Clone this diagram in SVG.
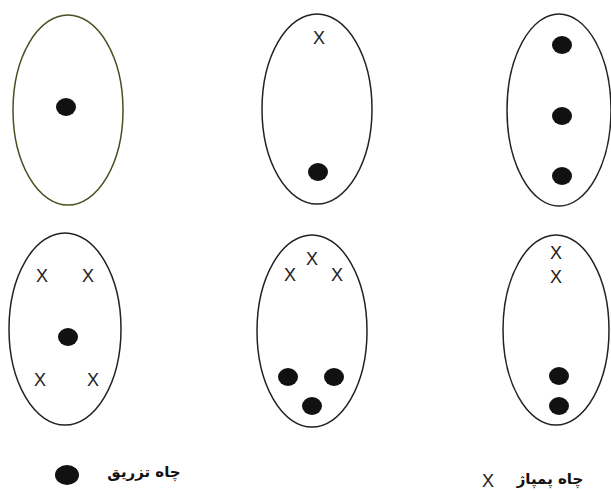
<svg xmlns="http://www.w3.org/2000/svg" width="611" height="491" viewBox="0 0 611 491">
<style>
.field{fill:none;stroke:#222;stroke-width:1.5}
.olive{stroke:#4d4d22}
.inj{fill:#111}
.pump{font-family:"Liberation Sans",Arial,sans-serif;font-size:18px;fill:#222;text-anchor:middle}
.lbl{font-family:"DejaVu Sans",sans-serif;font-weight:bold;font-size:15px;fill:#111;text-anchor:middle}
</style>
<defs>
<ellipse id="dot" cx="0" cy="0" rx="10" ry="9"/>
</defs>
<g id="pattern1">
<ellipse class="field olive" cx="68" cy="110" rx="55" ry="95"/>
<use href="#dot" class="inj" x="66" y="107"/>
</g>
<g id="pattern2">
<ellipse class="field" cx="317" cy="109" rx="55" ry="95"/>
<text class="pump" x="319" y="44">X</text>
<use href="#dot" class="inj" x="318" y="172"/>
</g>
<g id="pattern3">
<ellipse class="field" cx="559" cy="110" rx="52" ry="96"/>
<use href="#dot" class="inj" x="562" y="45"/>
<use href="#dot" class="inj" x="562" y="116"/>
<use href="#dot" class="inj" x="562" y="176"/>
</g>
<g id="pattern4">
<ellipse class="field" cx="65" cy="329" rx="56" ry="96"/>
<text class="pump" x="42" y="282">X</text>
<text class="pump" x="88" y="282">X</text>
<use href="#dot" class="inj" x="68" y="337"/>
<text class="pump" x="40" y="386">X</text>
<text class="pump" x="93" y="386">X</text>
</g>
<g id="pattern5">
<ellipse class="field" cx="312" cy="331" rx="55" ry="96"/>
<text class="pump" x="312" y="265">X</text>
<text class="pump" x="290" y="281">X</text>
<text class="pump" x="337" y="281">X</text>
<use href="#dot" class="inj" x="288" y="377"/>
<use href="#dot" class="inj" x="334" y="377"/>
<use href="#dot" class="inj" x="312" y="406"/>
</g>
<g id="pattern6">
<ellipse class="field" cx="556" cy="330" rx="53" ry="95"/>
<text class="pump" x="556" y="259">X</text>
<text class="pump" x="556" y="283">X</text>
<use href="#dot" class="inj" x="559" y="376"/>
<use href="#dot" class="inj" x="559" y="406"/>
</g>
<g id="legend">
<ellipse class="inj" cx="67" cy="475" rx="12" ry="10"/>
<text class="lbl" x="144" y="477" direction="rtl">چاه تزریق</text>
<text class="pump" x="488" y="487">X</text>
<text class="lbl" x="550" y="484" direction="rtl">چاه پمپاژ</text>
</g>
</svg>
